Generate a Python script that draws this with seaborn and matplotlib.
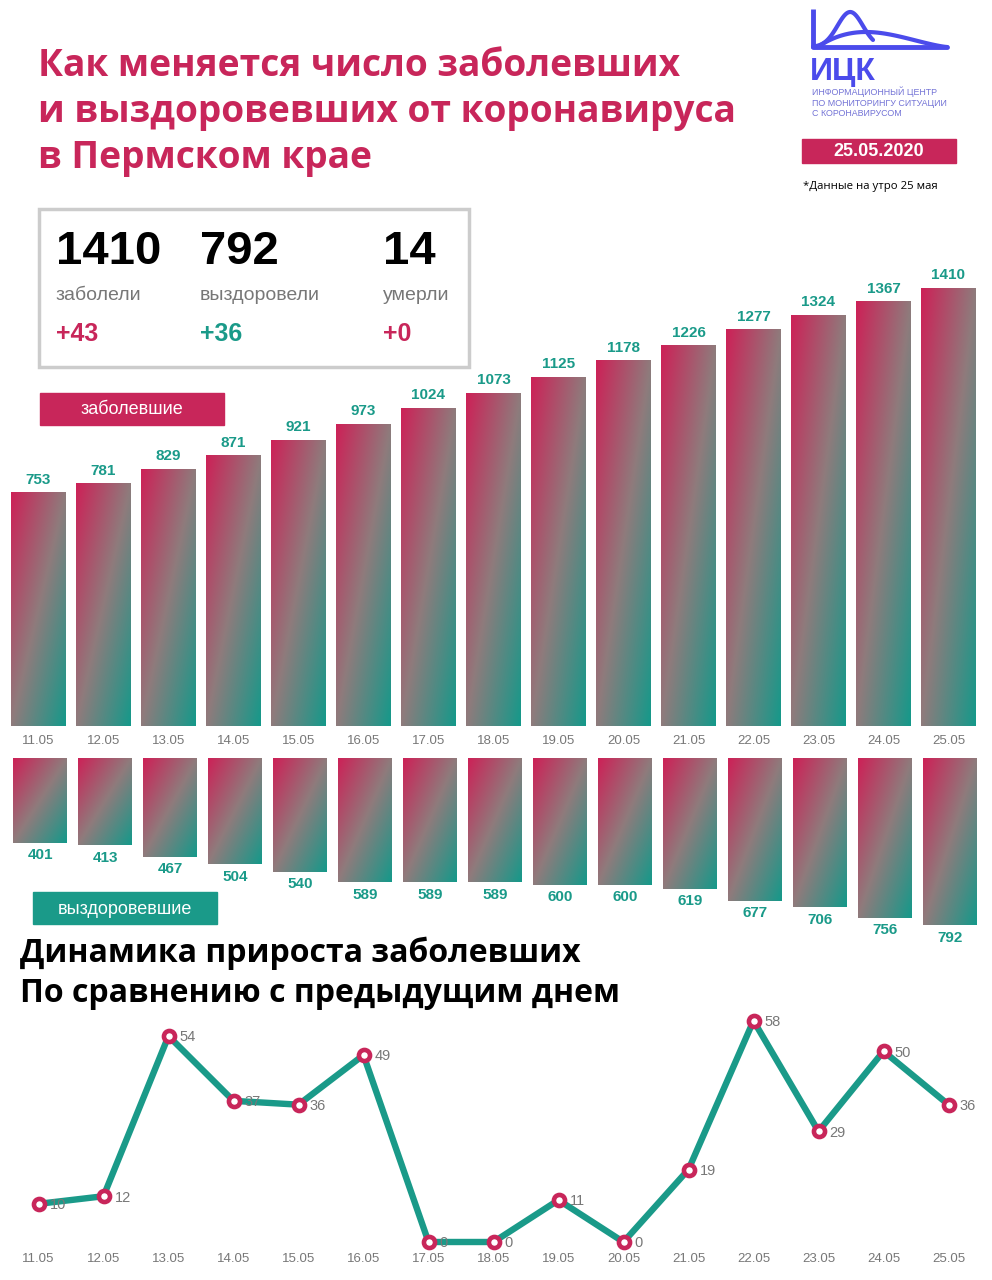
import matplotlib
matplotlib.use("Agg")
import matplotlib.pyplot as plt
from matplotlib.colors import LinearSegmentedColormap
from matplotlib.patches import Rectangle
import numpy as np
import pandas as pd
import seaborn as sns

dates = ["11.05", "12.05", "13.05", "14.05", "15.05", "16.05", "17.05", "18.05",
         "19.05", "20.05", "21.05", "22.05", "23.05", "24.05", "25.05"]
confirmed = [753, 781, 829, 871, 921, 973, 1024, 1073, 1125, 1178, 1226, 1277, 1324, 1367, 1410]
recovered = [401, 413, 467, 504, 540, 589, 589, 589, 600, 600, 619, 677, 706, 756, 792]
daily_growth = [10, 12, 54, 37, 36, 49, 0, 0, 11, 0, 19, 58, 29, 50, 36]

totals = ["1410", "792", "14"]
total_labels = ["заболели", "выздоровели", "умерли"]
deltas = ["+43", "+36", "+0"]

CRIMSON = "#C8265A"
TEAL = "#1A9A89"
GRAY = "#777777"
BLUE = "#4B4BEB"

sns.set_theme(style="white")
plt.rcParams["font.family"] = ["Liberation Sans", "DejaVu Sans"]

W, H = 992, 1280
fig = plt.figure(figsize=(W / 100, H / 100), dpi=100)
fig.patch.set_facecolor("white")


def px_axes(x0, y0, x1, y1):
    ax = fig.add_axes([x0 / W, 1 - y1 / H, (x1 - x0) / W, (y1 - y0) / H])
    ax.set_axis_off()
    return ax


def T(x, y, s, **kw):
    fig.text(x / W, 1 - y / H, s, **kw)


grad_cmap = LinearSegmentedColormap.from_list("g", ["#CD2157", "#8F7B7C", "#15998A"])
n = 100
ii, jj = np.mgrid[0:n, 0:n] / (n - 1)
grad = (ii + jj) / 2


def gradient_bars(ax, inverted=False):
    xl, yl = ax.get_xlim(), ax.get_ylim()
    for p in ax.patches:
        x0, w, h = p.get_x(), p.get_width(), p.get_height()
        p.set_facecolor("none")
        p.set_edgecolor("none")
        ext = (x0, x0 + w, h, 0) if inverted else (x0, x0 + w, 0, h)
        im = ax.imshow(grad, extent=ext, cmap=grad_cmap, aspect="auto",
                       origin="upper", zorder=1, vmin=0, vmax=1)
        im.set_clip_path(p)
    ax.set_xlim(xl)
    ax.set_ylim(yl)


# x mapping: category 0 at 38.5px, 65 px per category
x_left = -38.5 / 65
x_right = (W - 38.5) / 65

# ---- title
for k, line in enumerate(["Как меняется число заболевших",
                          "и выздоровевших от коронавируса",
                          "в Пермском крае"]):
    T(38, 76 + 46 * k, line, color=CRIMSON, fontsize=26.7, fontweight="bold",
      family="Open Sans", va="baseline")

# ---- logo
lg = px_axes(800, 0, 992, 60)
lg.set_xlim(800, 992)
lg.set_ylim(60, 0)
t = np.linspace(0, 1, 80)
lg.plot([813, 813], [9, 48], color=BLUE, lw=3.5, solid_capstyle="butt")
lg.plot([813, 947], [47, 47], color=BLUE, lw=3.5)
lg.plot(813 + 60 * t, 47 - 35 * np.exp(-((t - 0.62) / 0.3) ** 2), color=BLUE, lw=3)
lg.plot(818 + 129 * t, 47 - 15 * np.sin(np.pi * t ** 0.7) ** 1.3, color=BLUE, lw=3)
T(810, 80, "ИЦК", color=BLUE, fontsize=23, fontweight="bold", va="baseline")
for k, s in enumerate(["ИНФОРМАЦИОННЫЙ ЦЕНТР", "ПО МОНИТОРИНГУ СИТУАЦИИ", "С КОРОНАВИРУСОМ"]):
    T(812, 92 + 11 * k, s, color="#7373D6", fontsize=6.4, va="center")
fig.patches.append(Rectangle((802 / W, 1 - 163 / H), 154 / W, 24 / H,
                             transform=fig.transFigure, color=CRIMSON))
T(879, 151, "25.05.2020", color="white", fontsize=13, fontweight="bold",
  ha="center", va="center")
T(803, 186, "*Данные на утро 25 мая", color="black", fontsize=8.2,
  family="Open Sans", va="center")

# ---- stats box
fig.patches.append(Rectangle((39 / W, 1 - 367 / H), 430 / W, 158 / H,
                             transform=fig.transFigure, facecolor="white",
                             edgecolor="#CCCCCC", lw=2.5))
for cx, num, lab, d, c in zip([56, 200, 383], totals, total_labels, deltas,
                              [CRIMSON, TEAL, CRIMSON]):
    T(cx, 264, num, color="black", fontsize=34, fontweight="bold", va="baseline")
    T(cx, 300, lab, color=GRAY, fontsize=14, va="baseline")
    T(cx, 341, d, color=c, fontsize=18, fontweight="bold", va="baseline")

# ---- confirmed bars
top_ax = px_axes(0, 280, W, 726)
df = pd.DataFrame({"date": dates, "confirmed": confirmed, "recovered": recovered,
                   "growth": daily_growth, "pos": np.arange(len(dates))})
sns.barplot(data=df, x="date", y="confirmed", color=CRIMSON, width=0.846, ax=top_ax)
top_ax.set_xlim(x_left, x_right)
top_ax.set_ylim(0, 446 / 0.3106)
top_ax.set_axis_off()
gradient_bars(top_ax)
for i, v in enumerate(confirmed):
    top_ax.annotate(str(v), (i, v), xytext=(0, 4), textcoords="offset points",
                    ha="center", va="bottom", color=TEAL, fontsize=11, fontweight="bold",
                    family=["Liberation Sans Narrow", "Liberation Sans"])
    top_ax.annotate(dates[i], (i, 0), xytext=(0, -11), textcoords="offset points",
                    ha="center", va="center", color=GRAY, fontsize=9.5, annotation_clip=False)

# ---- recovered bars (hanging)
bot_ax = px_axes(0, 758, W, 950)
sns.barplot(data=df, x="date", y="recovered", color=CRIMSON, width=0.83, ax=bot_ax)
bot_ax.set_xlim(x_left - 0.03, x_right - 0.03)
bot_ax.set_ylim(192 / 0.211, 0)
bot_ax.set_axis_off()
gradient_bars(bot_ax, inverted=True)
for i, v in enumerate(recovered):
    bot_ax.annotate(str(v), (i, v), xytext=(0, -4), textcoords="offset points",
                    ha="center", va="top", color=TEAL, fontsize=11, fontweight="bold",
                    family=["Liberation Sans Narrow", "Liberation Sans"])

# ---- label boxes
fig.patches.append(Rectangle((40 / W, 1 - 425 / H), 184 / W, 32 / H,
                             transform=fig.transFigure, color=CRIMSON))
T(132, 410, "заболевшие", color="white", fontsize=13, ha="center", va="center")
fig.patches.append(Rectangle((33 / W, 1 - 924 / H), 184 / W, 32 / H,
                             transform=fig.transFigure, color=TEAL))
T(125, 909, "выздоровевшие", color="white", fontsize=13, ha="center", va="center")

# ---- headline
T(20, 962, "Динамика прироста заболевших", color="black", fontsize=23,
  fontweight="bold", family="Open Sans", va="baseline")
T(20, 1002, "По сравнению с предыдущим днем", color="black", fontsize=23,
  fontweight="bold", family="Open Sans", va="baseline")

# ---- daily growth line
ln_ax = px_axes(0, 1005, W, 1275)
sns.lineplot(data=df, x="pos", y="growth", ax=ln_ax, color=TEAL, linewidth=4.6,
             marker="o", markersize=8, markerfacecolor="white",
             markeredgecolor=CRIMSON, markeredgewidth=3.3)
ln_ax.set_xlim(x_left, x_right)
scale = 3.815
ln_ax.set_ylim(-(1275 - 1242) / scale, (1242 - 1005) / scale)
ln_ax.set_axis_off()
for line in ln_ax.lines:
    line.set_clip_on(False)
for i, v in enumerate(daily_growth):
    ln_ax.annotate(str(v), (i, v), xytext=(8, -1), textcoords="offset points",
                   ha="left", va="center", color=GRAY, fontsize=10.5)
    ln_ax.annotate(dates[i], (i, 0), xytext=(0, -12), textcoords="offset points",
                   ha="center", va="center", color=GRAY, fontsize=9.5, annotation_clip=False)

fig.savefig("out.png", dpi=100, facecolor="white")
